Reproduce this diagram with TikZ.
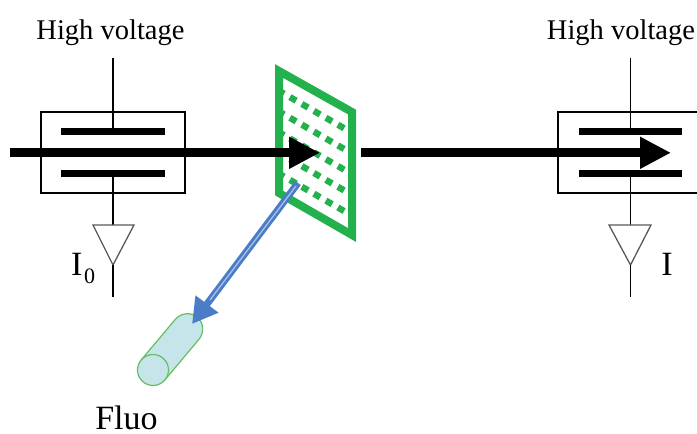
\documentclass[tikz,border=0pt]{standalone}
\usepackage{fontspec}
\setmainfont{Liberation Serif}
\usetikzlibrary{arrows.meta}
\definecolor{meshgreen}{HTML}{22B14C}
\definecolor{fluoblue}{HTML}{4A7CC7}
\definecolor{fluolight}{HTML}{A9C1E8}
\definecolor{tubefill}{HTML}{C5E5EA}
\definecolor{tubeline}{HTML}{62BF62}
\tikzset{
    wire/.style={black, line width=1.3pt},
    triangleamp/.style={draw=black!65, line width=1.3pt, line join=miter},
    plate/.style={black, line width=6.5pt},
    beam/.style={black, line width=9pt, -{Triangle[length=31pt,width=30pt]}},
    label/.style={anchor=base, inner sep=0pt, font=\fontsize{34}{34}\selectfont},
    hvlabel/.style={anchor=base, inner sep=0pt, font=\fontsize{28.5}{30}\selectfont}
}
\begin{document}
\begin{tikzpicture}[x=1pt,y=-1pt]
    \useasboundingbox (0,0) rectangle (697,434);
    % left chamber
    \draw[wire] (41,112) rectangle (185,193);
    \draw[wire] (113,58) -- (113,129);
    \draw[wire] (113,174) -- (113,225);
    \draw[plate] (61,131.5) -- (165,131.5);
    \draw[plate] (61,173.5) -- (165,173.5);
    \draw[triangleamp] (93,225) -- (134,225) -- (113,265) -- cycle;
    \draw[wire] (113,265) -- (113,297);
    % right chamber
    \draw[wire] (697,112) -- (558,112) -- (558,193) -- (697,193);
    \draw[wire] (630.5,58) -- (630.5,129);
    \draw[wire] (630.5,174) -- (630.5,225);
    \draw[plate] (579,131.5) -- (682,131.5);
    \draw[plate] (579,173.5) -- (682,173.5);
    \draw[triangleamp] (609,225) -- (651,225) -- (630.5,265) -- cycle;
    \draw[wire] (630.5,265) -- (630.5,297);
    % mesh
    \foreach \row in {0,...,4}
        \foreach \col in {0,...,5}
            \fill[meshgreen, shift={(281+12*\col,92+20.7*\row+6.9*\col)}, rotate=-30]
                (-3.6,-3.2) rectangle (3.6,3.2);
    \draw[meshgreen, line width=8pt, line join=miter, miter limit=2] (279,71) -- (352,112) -- (352,235) -- (279,193) -- cycle;
    % beams
    \draw[beam] (10,152.8) -- (320,152.8);
    \draw[beam] (361,152.8) -- (671,152.8);
    % fluorescence detector
    \begin{scope}[shift={(153,370)}, rotate=50]
        \draw[tubeline, fill=tubefill, line width=1.2pt] (0,15.5) -- (53,15.5)
            .. controls (62,15.5) and (69,8) .. (69,0)
            .. controls (69,-8) and (62,-15.5) .. (53,-15.5) -- (0,-15.5);
        \draw[tubeline, fill=tubefill, line width=1.2pt] (0,0) circle[radius=15.5];
    \end{scope}
    \draw[fluoblue, line width=7pt, -{Triangle[length=25pt,width=27pt]}] (298,183) -- (192,324);
    \draw[fluolight, line width=1.3pt] (296,186) -- (210,300);
    % labels
    \node[hvlabel] (hvleft) at (110.5,39) {High voltage};
    \node[hvlabel] (hvright) at (621,39) {High voltage};
    \node[label, anchor=base west] (izero) at (71,275) {I\kern1.5pt\raisebox{-8pt}{\fontsize{22}{22}\selectfont 0}};
    \node[label] (itrans) at (667,275) {I};
    \node[label] (fluo) at (126.5,429) {Fluo};
\end{tikzpicture}
\end{document}
